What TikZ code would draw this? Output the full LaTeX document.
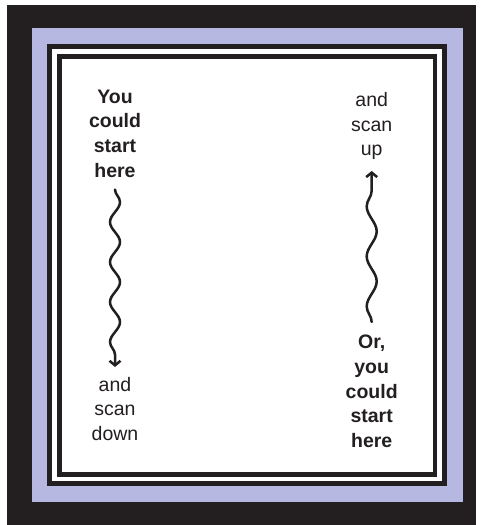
\documentclass[tikz,border=0pt]{standalone}
\usepackage{fontspec}
\setmainfont{Liberation Sans}
\usetikzlibrary{decorations.pathmorphing,arrows.meta}
\definecolor{ink}{RGB}{35,31,32}
\definecolor{lav}{RGB}{182,184,226}
\begin{document}
\begin{tikzpicture}[x=1pt,y=-1pt,
  txt/.style={align=center, inner sep=0pt, text=ink, font=\fontsize{19.5}{24.7}\selectfont},
  btxt/.style={txt, font=\fontsize{19.5}{24.7}\selectfont\bfseries},
  wavy/.style={draw=ink, line width=2.5pt, line cap=round, -{Straight Barb[length=4.5pt,width=11pt]},
    decorate, decoration={snake, amplitude=5pt, segment length=#1, post length=5pt}}]
\useasboundingbox (0,0) rectangle (480,525);
\fill[white] (0,0) rectangle (480,525);
\fill[ink] (7,5) rectangle (476,525);
\fill[lav] (31.5,28) rectangle (462.5,502);
\draw[ink, line width=5pt, fill=white] (49.5,46.5) rectangle (444.5,483.5);
\draw[ink, line width=4.5pt] (59.5,56.5) rectangle (435,474.5);

\node[btxt] (start1) at (115,133.5) {You\\could\\start\\here};
\node[txt] (down) at (115,409) {and\\scan\\down};
\node[txt] (up) at (371.7,126) {and\\scan\\up};
\node[btxt] (start2) at (371.7,391.5) {Or,\\you\\could\\start\\here};

\draw[wavy=40pt] ([yshift=-12pt]start1.south) -- ([yshift=10pt]down.north);
\draw[wavy=50pt] ([yshift=13pt]start2.north) -- ([yshift=-11pt]up.south);
\end{tikzpicture}
\end{document}
